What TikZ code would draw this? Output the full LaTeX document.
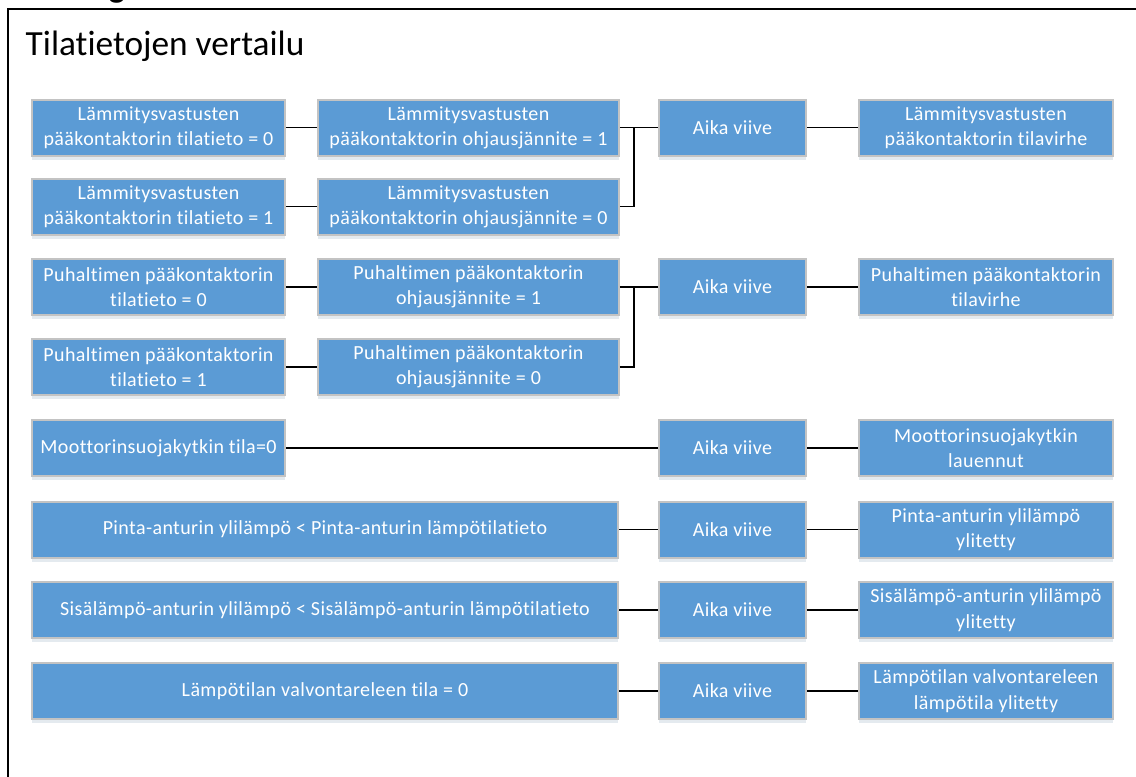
\documentclass[tikz,border=0pt]{standalone}
\usepackage{fontspec}
\setmainfont{Carlito}[Ligatures=NoCommon, RawFeature=-liga]
\newfontfamily\boxfont{Carlito}[Ligatures=NoCommon, RawFeature=-liga, LetterSpace=2]
\usetikzlibrary{shadows}
\definecolor{boxblue}{HTML}{5B9BD5}
\definecolor{boxedge}{HTML}{C3C3C3}
\begin{document}
\begin{tikzpicture}[x=0.75pt,y=-0.75pt,
  box/.style={draw=boxedge, line width=1.5pt, fill=boxblue, text=white,
    font=\boxfont\fontsize{15}{19}\selectfont, align=center, inner sep=0pt,
    minimum height=42pt,
    drop shadow={shadow xshift=0pt, shadow yshift=-3pt, opacity=0.18, fill=boxblue!50!gray}},
  colA/.style={box, minimum width=190pt},
  colB/.style={box, minimum width=225.5pt},
  colD/.style={box, minimum width=110.5pt},
  colO/.style={box, minimum width=190.5pt},
  colW/.style={box, minimum width=439.5pt},
  wire/.style={line width=1.4pt, black}]
\useasboundingbox (0,0) rectangle (1136,776);
\fill[white] (0,0) rectangle (1136,776);
\begin{scope}
  \clip (0,0) rectangle (1136,776);
  \draw[line width=1.6pt] (8,9) rectangle (1137,800);
  \node[anchor=base, font=\bfseries\fontsize{25.5}{30}\selectfont] (cut) at (117,-3) {g};
\end{scope}
\node[anchor=base west, font=\fontsize{26.5}{31}\selectfont] (title) at (21,55) {Tilatietojen vertailu};

% rows 1-2
\node[colA] (a1) at (158.5,127.5) {Lämmitysvastusten\\pääkontaktorin tilatieto = 0};
\node[colB] (b1) at (468.5,127.5) {Lämmitysvastusten\\pääkontaktorin ohjausjännite = 1};
\node[colD] (d1) at (732.5,127.5) {Aika viive};
\node[colO] (o1) at (986,127.5) {Lämmitysvastusten\\pääkontaktorin tilavirhe};
\node[colA] (a2) at (158.5,206.5) {Lämmitysvastusten\\pääkontaktorin tilatieto = 1};
\node[colB] (b2) at (468.5,206.5) {Lämmitysvastusten\\pääkontaktorin ohjausjännite = 0};
% rows 3-4
\node[colA] (a3) at (158.5,287) {Puhaltimen pääkontaktorin\\tilatieto = 0};
\node[colB] (b3) at (468.5,287) {Puhaltimen pääkontaktorin\\ohjausjännite = 1};
\node[colD] (d3) at (732.5,287) {Aika viive};
\node[colO] (o3) at (986,287) {Puhaltimen pääkontaktorin\\tilavirhe};
\node[colA] (a4) at (158.5,367) {Puhaltimen pääkontaktorin\\tilatieto = 1};
\node[colB] (b4) at (468.5,367) {Puhaltimen pääkontaktorin\\ohjausjännite = 0};
% row 5
\node[colA] (a5) at (158.5,448) {Moottorinsuojakytkin tila=0};
\node[colD] (d5) at (732.5,448) {Aika viive};
\node[colO] (o5) at (986,448) {Moottorinsuojakytkin\\lauennut};
% row 6
\node[colW] (a6) at (325,529.5) {Pinta-anturin ylilämpö < Pinta-anturin lämpötilatieto};
\node[colD] (d6) at (732.5,529.5) {Aika viive};
\node[colO] (o6) at (986,529.5) {Pinta-anturin ylilämpö\\ylitetty};
% row 7
\node[colW] (a7) at (325,610) {Sisälämpö-anturin ylilämpö < Sisälämpö-anturin lämpötilatieto};
\node[colD] (d7) at (732.5,610) {Aika viive};
\node[colO] (o7) at (986,610) {Sisälämpö-anturin ylilämpö\\ylitetty};
% row 8
\node[colW] (a8) at (325,691) {Lämpötilan valvontareleen tila = 0};
\node[colD] (d8) at (732.5,691) {Aika viive};
\node[colO] (o8) at (986,691) {Lämpötilan valvontareleen\\lämpötila ylitetty};

\coordinate (j1) at (634,127.5);
\coordinate (j3) at (634,287);

\draw[wire] (a1) -- (b1);
\draw[wire] (a2) -- (b2);
\draw[wire] (b1) -- (d1);
\draw[wire] (b2.east) -- (b2.east -| j1) -- (j1);
\draw[wire] (d1) -- (o1);

\draw[wire] (a3) -- (b3);
\draw[wire] (a4) -- (b4);
\draw[wire] (b3) -- (d3);
\draw[wire] (b4.east) -- (b4.east -| j3) -- (j3);
\draw[wire] (d3) -- (o3);

\draw[wire] (a5) -- (d5);
\draw[wire] (d5) -- (o5);
\draw[wire] (a6) -- (d6);
\draw[wire] (d6) -- (o6);
\draw[wire] (a7) -- (d7);
\draw[wire] (d7) -- (o7);
\draw[wire] (a8) -- (d8);
\draw[wire] (d8) -- (o8);
\end{tikzpicture}
\end{document}
